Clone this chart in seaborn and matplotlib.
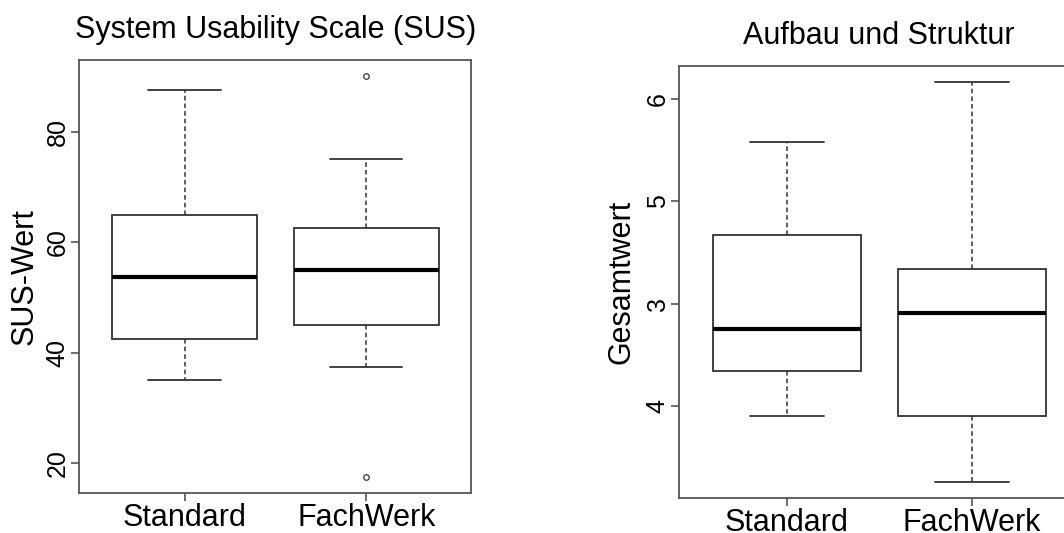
import numpy as np
import pandas as pd
import matplotlib
matplotlib.use("Agg")
import matplotlib.pyplot as plt
import seaborn as sns

# ---- data ----
groups = ["Standard", "FachWerk"]
sus_standard = [35.0, 42.5, 53.75, 65.0, 87.5]
sus_fachwerk = [17.5, 37.5, 45.0, 50.0, 55.0, 60.0, 62.5, 75.0, 90.0]
aus_standard = [2.90, 3.34, 3.75, 4.67, 5.58]
aus_fachwerk = [2.25, 2.90, 3.91, 4.34, 6.17]
sus_ticks = [20, 40, 60, 80]
sus_ticklabels = ["20", "40", "60", "80"]
aus_ticks = [6, 5, 4, 3]
aus_ticklabels = ["6", "5", "3", "4"]

df_sus = pd.DataFrame({
    "Gruppe": [groups[0]] * len(sus_standard) + [groups[1]] * len(sus_fachwerk),
    "Wert": sus_standard + sus_fachwerk,
})
df_aus = pd.DataFrame({
    "Gruppe": [groups[0]] * len(aus_standard) + [groups[1]] * len(aus_fachwerk),
    "Wert": aus_standard + aus_fachwerk,
})

sns.set_style("ticks")
plt.rcParams["font.family"] = ["Liberation Sans", "DejaVu Sans"]
plt.rcParams["text.color"] = "black"
plt.rcParams["axes.labelcolor"] = "black"
plt.rcParams["xtick.labelcolor"] = "black"
plt.rcParams["ytick.labelcolor"] = "black"

fig = plt.figure(figsize=(10.64, 5.33), dpi=100)
ax1 = fig.add_axes([0.0747, 0.0747, 0.3684, 0.8120])
ax2 = fig.add_axes([0.6385, 0.0650, 0.3755, 0.8114])

frame_col = "#555555"
line_col = "#333333"

box_kws = dict(
    color="white", linecolor=line_col, linewidth=1.3, width=0.8, whis=1.5,
    saturation=1,
    whiskerprops=dict(linestyle=(0, (3, 2)), linewidth=1.1),
    capprops=dict(linewidth=1.3),
    medianprops=dict(color="black", linewidth=3.0),
    flierprops=dict(marker="o", markersize=4, markerfacecolor="none",
                    markeredgecolor=line_col, markeredgewidth=0.9),
)

def style(ax, title, ylabel, ylim, ticks, ticklabels, ylab_x):
    ax.set_xlim(-0.58, 1.58)
    ax.set_ylim(*ylim)
    ax.set_yticks(ticks)
    ax.set_yticklabels(ticklabels, rotation=90, va="center", fontsize=18)
    ax.set_xticks([0, 1])
    ax.set_xticklabels(groups, fontsize=22)
    ax.tick_params(axis="x", length=6, width=1.2, color=frame_col, pad=1)
    ax.tick_params(axis="y", length=6, width=1.2, color=frame_col, pad=1)
    for s in ax.spines.values():
        s.set_visible(True)
        s.set_color(frame_col)
        s.set_linewidth(1.3)
    ax.set_title(title, fontsize=22, pad=16, color="black")
    ax.set_xlabel("")
    ax.set_ylabel(ylabel, fontsize=22, color="black")
    ax.yaxis.set_label_coords(ylab_x, 0.5)
    ax.yaxis.label.set_verticalalignment("baseline")

sns.boxplot(data=df_sus, x="Gruppe", y="Wert", ax=ax1, **box_kws)
style(ax1, "System Usability Scale (SUS)", "SUS-Wert", (14.6, 92.9),
      sus_ticks, sus_ticklabels, -0.1186)

sns.boxplot(data=df_aus, x="Gruppe", y="Wert", ax=ax2, **box_kws)
style(ax2, "Aufbau und Struktur", "Gesamtwert", (2.093, 6.327),
      aus_ticks, aus_ticklabels, -0.1237)

fig.savefig("out.png", dpi=100, facecolor="white")
